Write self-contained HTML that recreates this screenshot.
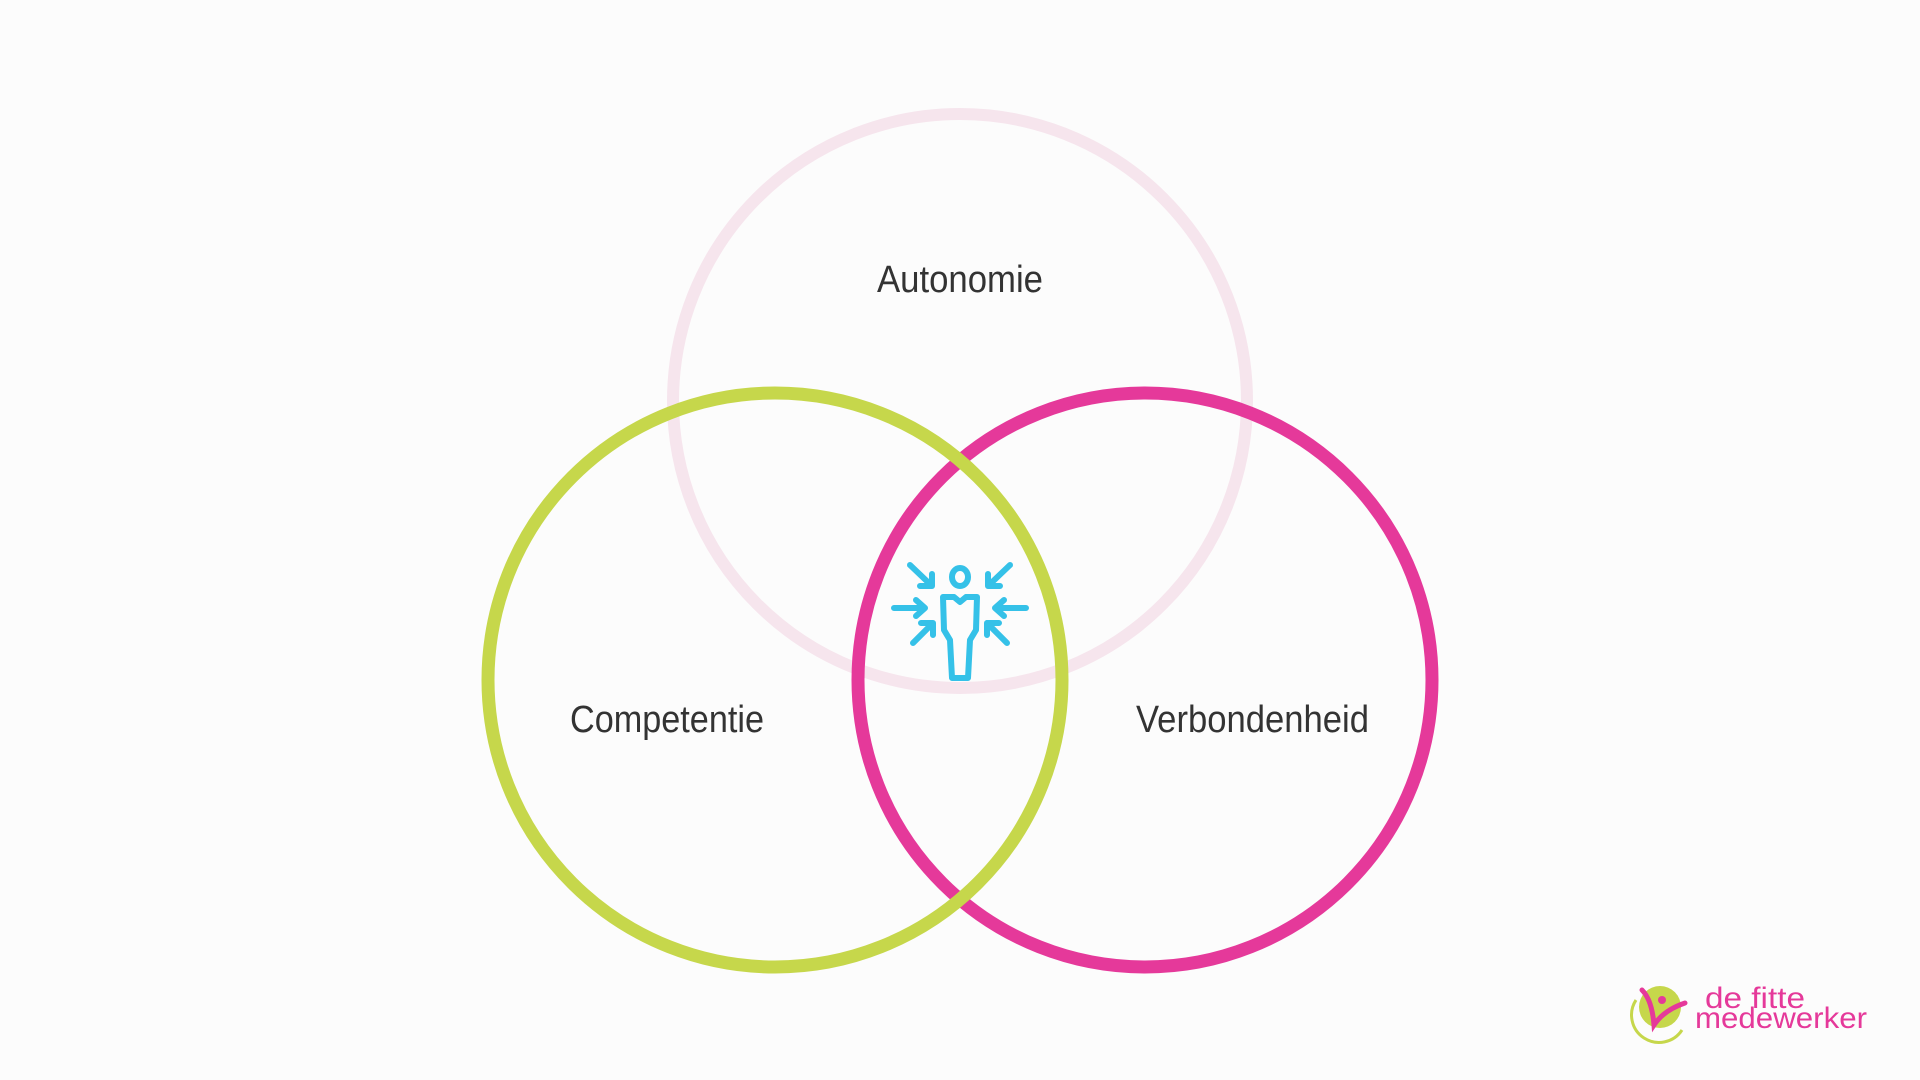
<!DOCTYPE html>
<html><head><meta charset="utf-8"><style>
html,body{margin:0;padding:0;background:#fcfcfc;}
svg{display:block;}
</style></head><body>
<svg width="1920" height="1080" viewBox="0 0 1920 1080" xmlns="http://www.w3.org/2000/svg">
<rect width="1920" height="1080" fill="#fcfcfc"/>
<circle cx="960" cy="401" r="287" fill="none" stroke="#f6e5ed" stroke-width="12"/>
<circle cx="1145" cy="680" r="287" fill="none" stroke="#e5399a" stroke-width="13"/>
<circle cx="775" cy="680" r="287" fill="none" stroke="#c6d74b" stroke-width="13"/>
<g font-family="'Liberation Sans Narrow','Liberation Sans',sans-serif" font-size="38" fill="#333">
<text x="877" y="292" textLength="166" lengthAdjust="spacingAndGlyphs">Autonomie</text>
<text x="570" y="732" textLength="194" lengthAdjust="spacingAndGlyphs">Competentie</text>
<text x="1136" y="732" textLength="233" lengthAdjust="spacingAndGlyphs">Verbondenheid</text>
</g>
<g transform="translate(880,540)" fill="none" stroke="#35c1e8" stroke-width="6" stroke-linecap="round" stroke-linejoin="round">
<ellipse cx="80" cy="37" rx="8" ry="9"/>
<path d="M63,57 L74,57 L80,62 L86,57 L97,57 L96,90 L90,100 L88,138 L72,138 L70,100 L64,90 Z"/>
<path d="M14,68 L45,68 M36,60 L45,68 L36,76"/>
<path d="M30,25 L52,46 M52,34 L52,46 L40,46"/>
<path d="M33,103 L53,83 M41,83 L53,83 L53,95"/>
<path d="M146,68 L115,68 M124,60 L115,68 L124,76"/>
<path d="M130,25 L108,46 M108,34 L108,46 L120,46"/>
<path d="M127,103 L107,83 M119,83 L107,83 L107,95"/>
</g>
<g transform="translate(1620,970)">
<circle cx="40" cy="37" r="21" fill="#c6d74b"/>
<path d="M16,30 A27,27 0 0 0 62,60" fill="none" stroke="#c6d74b" stroke-width="3"/>
<path d="M22,20 Q32,30 34,55 Q44,40 65,33" fill="none" stroke="#e5399a" stroke-width="5" stroke-linecap="round"/>
<circle cx="42" cy="30" r="4" fill="#e5399a"/>
</g>
<g font-family="'Liberation Sans',sans-serif" fill="#e5399a" font-size="30">
<text x="1705" y="1008" textLength="100" lengthAdjust="spacingAndGlyphs">de fitte</text>
<text x="1695" y="1028" textLength="172" lengthAdjust="spacingAndGlyphs">medewerker</text>
</g>
</svg>
</body></html>
